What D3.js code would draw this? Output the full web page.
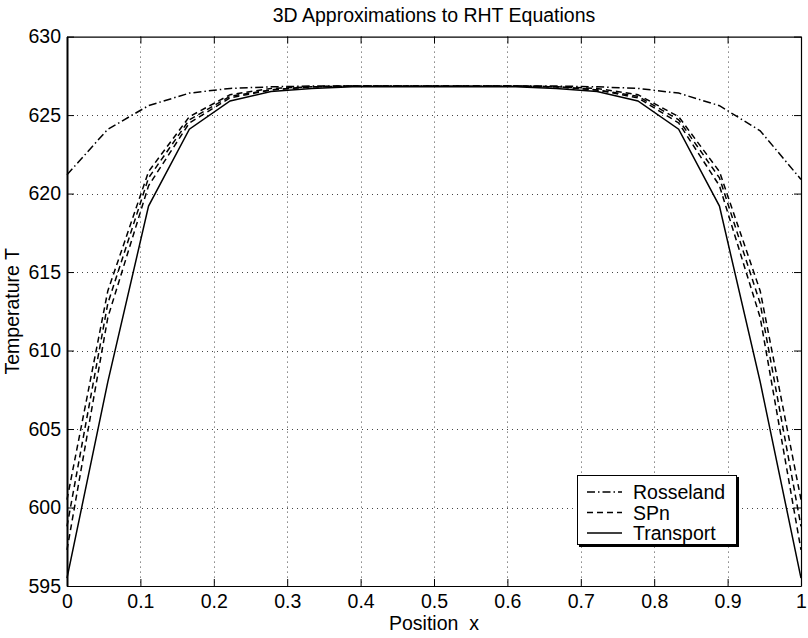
<!DOCTYPE html>
<html>
<head>
<meta charset="utf-8">
<script src="https://cdn.jsdelivr.net/npm/d3@7"></script>
<style>
  body { margin: 0; background: #fff; }
  text { font-family: "Liberation Sans", Arial, Helvetica, sans-serif; fill: #000; }
</style>
</head>
<body>
<div id="chart"></div>
<script>
// sample positions along x
var xPos = [0, 0.0556, 0.1111, 0.1667, 0.2222, 0.2778, 0.3333, 0.3889, 0.4444, 0.5,
            0.5556, 0.6111, 0.6667, 0.7222, 0.7778, 0.8333, 0.8889, 0.9444, 1];

// temperature series
var rosseland = [621.2, 624.1, 625.6, 626.4, 626.7, 626.8, 626.85, 626.85, 626.85, 626.85,
                 626.85, 626.85, 626.85, 626.8, 626.7, 626.4, 625.6, 624.0, 620.9];
var spnA = [600.5, 613.8, 621.4, 624.9, 626.3, 626.7, 626.8, 626.85, 626.85, 626.85,
            626.85, 626.85, 626.8, 626.7, 626.3, 624.9, 621.4, 613.8, 600.5];
var spnB = [598.8, 613.0, 621.0, 624.7, 626.2, 626.6, 626.8, 626.85, 626.85, 626.85,
            626.85, 626.85, 626.8, 626.6, 626.2, 624.7, 621.0, 613.0, 598.8];
var spnC = [597.3, 612.1, 620.5, 624.5, 626.1, 626.6, 626.8, 626.85, 626.85, 626.85,
            626.85, 626.85, 626.8, 626.6, 626.1, 624.5, 620.5, 612.1, 597.3];
var transport = [595.5, 608.0, 619.2, 624.1, 625.9, 626.5, 626.7, 626.8, 626.8, 626.8,
                 626.8, 626.8, 626.7, 626.5, 625.9, 624.1, 619.2, 608.0, 595.5];

var xTicks = [0, 0.1, 0.2, 0.3, 0.4, 0.5, 0.6, 0.7, 0.8, 0.9, 1];
var yTicks = [595, 600, 605, 610, 615, 620, 625, 630];
var legendNames = ["Rosseland", "SPn", "Transport"];

var W = 808, H = 638;
var pL = 67, pR = 801, pT = 36.6, pB = 586;
var fs = "19.5px";

var svg = d3.select("#chart").append("svg")
    .attr("width", W).attr("height", H);

var x = d3.scaleLinear().domain([0, 1]).range([pL, pR]);
var y = d3.scaleLinear().domain([595, 630]).range([pB, pT]);

// grid
var grid = svg.append("g").attr("stroke", "#444").attr("stroke-width", 1)
    .attr("stroke-dasharray", "1,4");
grid.selectAll("line.gx").data(xTicks.slice(1, -1)).enter().append("line")
    .attr("x1", d => Math.round(x(d)) + 0.5).attr("x2", d => Math.round(x(d)) + 0.5)
    .attr("y1", pT).attr("y2", pB);
grid.selectAll("line.gy").data(yTicks.slice(1, -1)).enter().append("line")
    .attr("y1", d => Math.round(y(d)) + 0.5).attr("y2", d => Math.round(y(d)) + 0.5)
    .attr("x1", pL).attr("x2", pR);

// lines
var line = d3.line().x((d, i) => x(xPos[i])).y(d => y(d));
var series = [
  {v: rosseland, dash: "8,3,1.5,3"},
  {v: spnA, dash: "6,4"},
  {v: spnB, dash: "6,4"},
  {v: spnC, dash: "6,4"},
  {v: transport, dash: null}
];
svg.append("g").selectAll("path").data(series).enter().append("path")
    .attr("d", d => line(d.v))
    .attr("fill", "none")
    .attr("stroke", "#000")
    .attr("stroke-width", 1.5)
    .attr("stroke-dasharray", d => d.dash);

// axes box with inward ticks
var axB = svg.append("g").attr("transform", "translate(0," + pB + ")")
    .call(d3.axisBottom(x).tickValues(xTicks).tickFormat(d3.format("")).tickSizeInner(-7).tickSizeOuter(0).tickPadding(8));
var axT = svg.append("g").attr("transform", "translate(0," + pT + ")")
    .call(d3.axisTop(x).tickValues(xTicks).tickFormat("").tickSizeInner(-7).tickSizeOuter(0));
var axL = svg.append("g").attr("transform", "translate(" + pL + ",0)")
    .call(d3.axisLeft(y).tickValues(yTicks).tickSizeInner(-7).tickSizeOuter(0).tickPadding(6));
var axR = svg.append("g").attr("transform", "translate(" + pR + ",0)")
    .call(d3.axisRight(y).tickValues(yTicks).tickFormat("").tickSizeInner(-7).tickSizeOuter(0));

svg.selectAll(".domain").attr("stroke", "#000").attr("stroke-width", 1.2);
axL.select(".domain").attr("stroke-width", 2);
svg.selectAll(".tick line").attr("stroke", "#000");
svg.selectAll(".tick text").style("font-size", fs).attr("fill", "#000")
    .style("font-family", "'Liberation Sans', Arial, sans-serif");

// titles
svg.append("text").attr("x", (pL + pR) / 2).attr("y", 22)
    .attr("text-anchor", "middle").style("font-size", fs)
    .text("3D Approximations to RHT Equations");
svg.append("text").attr("x", (pL + pR) / 2).attr("y", 630)
    .attr("text-anchor", "middle").style("font-size", fs)
    .style("white-space", "pre")
    .text("Position  x");
svg.append("text")
    .attr("transform", "translate(19," + ((pT + pB) / 2) + ") rotate(-90)")
    .attr("text-anchor", "middle").style("font-size", fs)
    .text("Temperature T");

// legend
var lg = svg.append("g");
lg.append("rect").attr("x", 579).attr("y", 477).attr("width", 160).attr("height", 70).attr("fill", "#000");
lg.append("rect").attr("x", 577.5).attr("y", 475.5).attr("width", 159).attr("height", 69)
    .attr("fill", "#fff").attr("stroke", "#000").attr("stroke-width", 1);
var legDash = ["8,3,1.5,3", "6,4", null];
legendNames.forEach(function (n, i) {
  var yy = 492 + i * 20.5;
  lg.append("line").attr("x1", 587).attr("x2", 622).attr("y1", yy).attr("y2", yy)
      .attr("stroke", "#000").attr("stroke-width", 1.5).attr("stroke-dasharray", legDash[i]);
  lg.append("text").attr("x", 633).attr("y", yy + 7).style("font-size", fs).text(n);
});
</script>
</body>
</html>
